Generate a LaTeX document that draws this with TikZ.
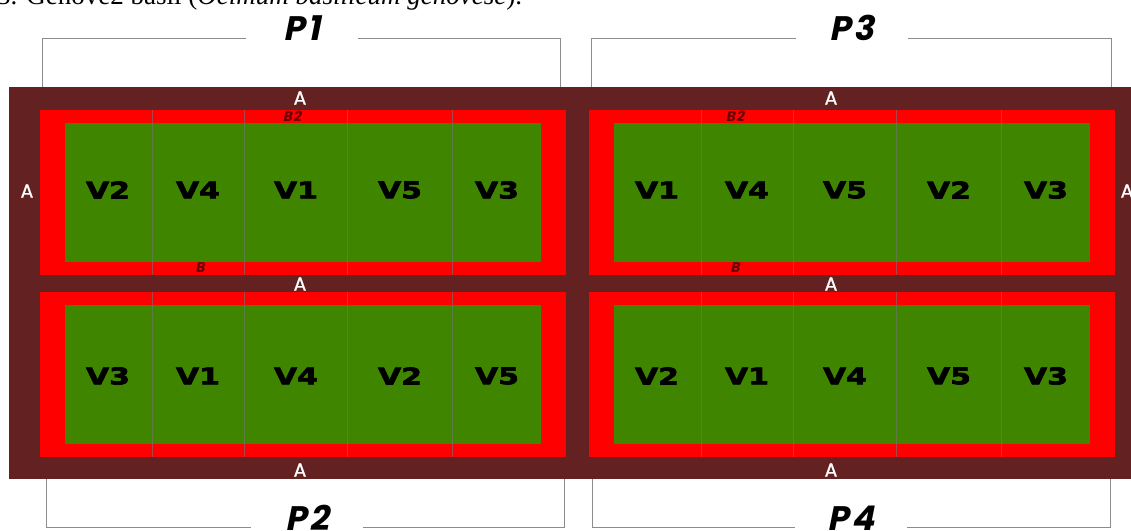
\documentclass[tikz,border=0pt]{standalone}
\usepackage{fontspec}
\setmainfont{Liberation Serif}
\newfontfamily\plotfont[FakeStretch=1.3,FakeBold=3]{DejaVu Sans}
\newfontfamily\markfont[FakeBold=1]{Poppins}
\newfontfamily\namefont[FakeSlant=0.2,LetterSpace=8]{Poppins}
\usetikzlibrary{positioning}
\definecolor{alley}{HTML}{642121}
\definecolor{border}{HTML}{FF0000}
\definecolor{crop}{HTML}{408500}

\begin{document}
\begin{tikzpicture}[x=1pt,y=-1pt,
  cell/.style={inner sep=0pt,font=\plotfont\bfseries\fontsize{23}{23}\selectfont},
  alleylab/.style={inner sep=0pt,text=white,font=\markfont\fontsize{19}{19}\selectfont},
  bandlab/.style={inner sep=0pt,text=red!40!black,font=\namefont\bfseries\fontsize{14}{14}\selectfont},
  plotname/.style={inner sep=0pt,minimum width=112pt,font=\namefont\bfseries\fontsize{34}{34}\selectfont},
  divider/.style={draw=black!55,opacity=0.6,line width=0.6pt},
  bracket/.style={draw=black!45,line width=0.8pt}]
\useasboundingbox (0,0) rectangle (1131,530);
\clip (0,0) rectangle (1131,530);
\node[anchor=base west,inner sep=0pt,font=\fontsize{27}{27}\selectfont] (cap) at (-3,5)
  {3. Genove2 basil (\textit{Ocimum basilicum genovese}).};
\fill[alley] (9,87) rectangle (1135,479);
\foreach \px/\py/\ly/\pn/\vs in {40/110/80/p1/{2,4,1,5,3},589/110/80/p3/{1,4,5,2,3},
  40/292/84/p2/{3,1,4,2,5},589/292/84/p4/{2,1,4,5,3}} {
  \fill[border] (\px,\py) rectangle ++(526,165);
  \fill[crop] (\px+25,\py+13) rectangle (\px+501,\py+152);
  \foreach \dx in {112,204,307,412} \draw[divider] (\px+\dx,\py) -- ++(0,165);
  \foreach \v [count=\i] in \vs {
    \pgfmathsetmacro\cx{{68,158,256,360,457}[\i-1]}
    \node[cell] (\pn v\v) at (\px+\cx,\py+\ly) {V\v};
  }
}
\node[alleylab] (a1) at (300,98) {A};
\node[alleylab] (a3) at (831,98) {A};
\node[alleylab] (a12) at (300,284) {A};
\node[alleylab] (a34) at (831,284) {A};
\node[alleylab] (a2) at (300,470) {A};
\node[alleylab] (a4) at (831,470) {A};
\node[alleylab] (aw) at (27,191) {A};
\node[alleylab] (ae) at (1127,191) {A};
\node[bandlab] (b21) at (292,116) {B2};
\node[bandlab] (b23) at (735,116) {B2};
\node[bandlab] (b1) at (200,268) {B};
\node[bandlab] (b3) at (735,268) {B};
\node[plotname,anchor=base] (p1) at (302,40) {P1};
\node[plotname,anchor=base] (p3) at (852,40) {P3};
\node[plotname,anchor=base] (p2) at (307,530) {P2};
\node[plotname,anchor=base] (p4) at (851,530) {P4};
\coordinate (p1l) at (42,87);
\coordinate (p1r) at (560,87);
\coordinate (p3l) at (591,87);
\coordinate (p3r) at (1111,87);
\coordinate (p2l) at (46,479);
\coordinate (p2r) at (564,479);
\coordinate (p4l) at (592,479);
\coordinate (p4r) at (1110,479);
\foreach \p in {p1,p3} {
  \draw[bracket] ([yshift=2pt]\p.base west) -| (\p l);
  \draw[bracket] ([yshift=2pt]\p.base east) -| (\p r);
}
\foreach \p in {p2,p4} {
  \draw[bracket] ([yshift=3pt]\p.base west) -| (\p l);
  \draw[bracket] ([yshift=3pt]\p.base east) -| (\p r);
}
\end{tikzpicture}
\end{document}
